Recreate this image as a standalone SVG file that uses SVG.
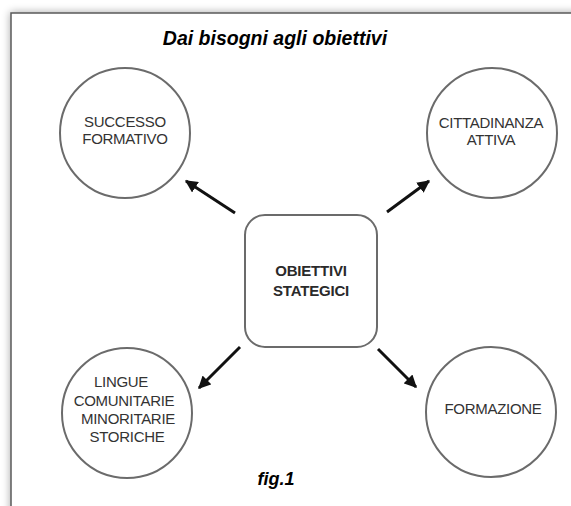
<svg xmlns="http://www.w3.org/2000/svg" width="571" height="506" viewBox="0 0 571 506">
  <defs>
    <filter id="shadow" x="-10%" y="-10%" width="130%" height="130%">
      <feGaussianBlur in="SourceAlpha" stdDeviation="4"/>
      <feOffset dx="0" dy="0" result="b"/>
      <feComponentTransfer><feFuncA type="linear" slope="0.35"/></feComponentTransfer>
      <feMerge><feMergeNode/><feMergeNode in="SourceGraphic"/></feMerge>
    </filter>
    <marker id="arrow" viewBox="0 0 10 10" refX="9" refY="5" markerWidth="4.2" markerHeight="4.2" orient="auto" markerUnits="strokeWidth">
      <path d="M0,0 L10,5 L0,10 Z" fill="#111"/>
    </marker>
    <style>
      .circ { fill: #fff; stroke: #6b6b6b; stroke-width: 2; }
      .box { fill: #fff; stroke: #6b6b6b; stroke-width: 2; }
      .lbl { font-family: "Liberation Sans", Arial, sans-serif; font-size: 15px; fill: #333; text-anchor: middle; letter-spacing: -0.3px; }
      .clbl { font-family: "Liberation Sans", Arial, sans-serif; font-size: 15px; font-weight: bold; fill: #2a2a2a; text-anchor: middle; letter-spacing: -0.2px; }
      .title { font-family: "Liberation Sans", Arial, sans-serif; font-size: 19.5px; font-weight: bold; font-style: italic; fill: #000; text-anchor: middle; }
      .fig { font-family: "Liberation Sans", Arial, sans-serif; font-size: 18px; font-weight: bold; font-style: italic; fill: #000; text-anchor: middle; }
      .conn { stroke: #111; stroke-width: 3; fill: none; marker-end: url(#arrow); }
    </style>
  </defs>
  <rect x="0" y="0" width="571" height="506" fill="#fff"/>
  <rect x="11" y="13" width="620" height="560" fill="#fff" stroke="#5a5a5a" stroke-width="1.5" filter="url(#shadow)"/>
  <text class="title" x="275" y="45">Dai bisogni agli obiettivi</text>
  <text class="fig" x="276" y="485">fig.1</text>

  <g id="connectors">
    <line class="conn" x1="235" y1="213" x2="186" y2="181"/>
    <line class="conn" x1="387" y1="212" x2="429" y2="181"/>
    <line class="conn" x1="240" y1="347" x2="199" y2="388"/>
    <line class="conn" x1="378" y1="349" x2="416" y2="387"/>
  </g>

  <g id="center">
    <rect class="box" x="245" y="215" width="132" height="132" rx="20"/>
    <text class="clbl" x="311" y="276">OBIETTIVI</text>
    <text class="clbl" x="311" y="296">STATEGICI</text>
  </g>

  <g id="successo">
    <circle class="circ" cx="125" cy="133" r="65"/>
    <text class="lbl" x="125" y="127">SUCCESSO</text>
    <text class="lbl" x="125" y="144">FORMATIVO</text>
  </g>

  <g id="cittadinanza">
    <circle class="circ" cx="492" cy="133" r="65"/>
    <text class="lbl" x="491" y="128">CITTADINANZA</text>
    <text class="lbl" x="491" y="145">ATTIVA</text>
  </g>

  <g id="lingue">
    <circle class="circ" cx="127" cy="413" r="65"/>
    <text class="lbl" x="121" y="387">LINGUE</text>
    <text class="lbl" x="124" y="406">COMUNITARIE</text>
    <text class="lbl" x="128" y="424">MINORITARIE</text>
    <text class="lbl" x="127" y="442">STORICHE</text>
  </g>

  <g id="formazione">
    <circle class="circ" cx="491" cy="412" r="65"/>
    <text class="lbl" x="493" y="414">FORMAZIONE</text>
  </g>
</svg>
